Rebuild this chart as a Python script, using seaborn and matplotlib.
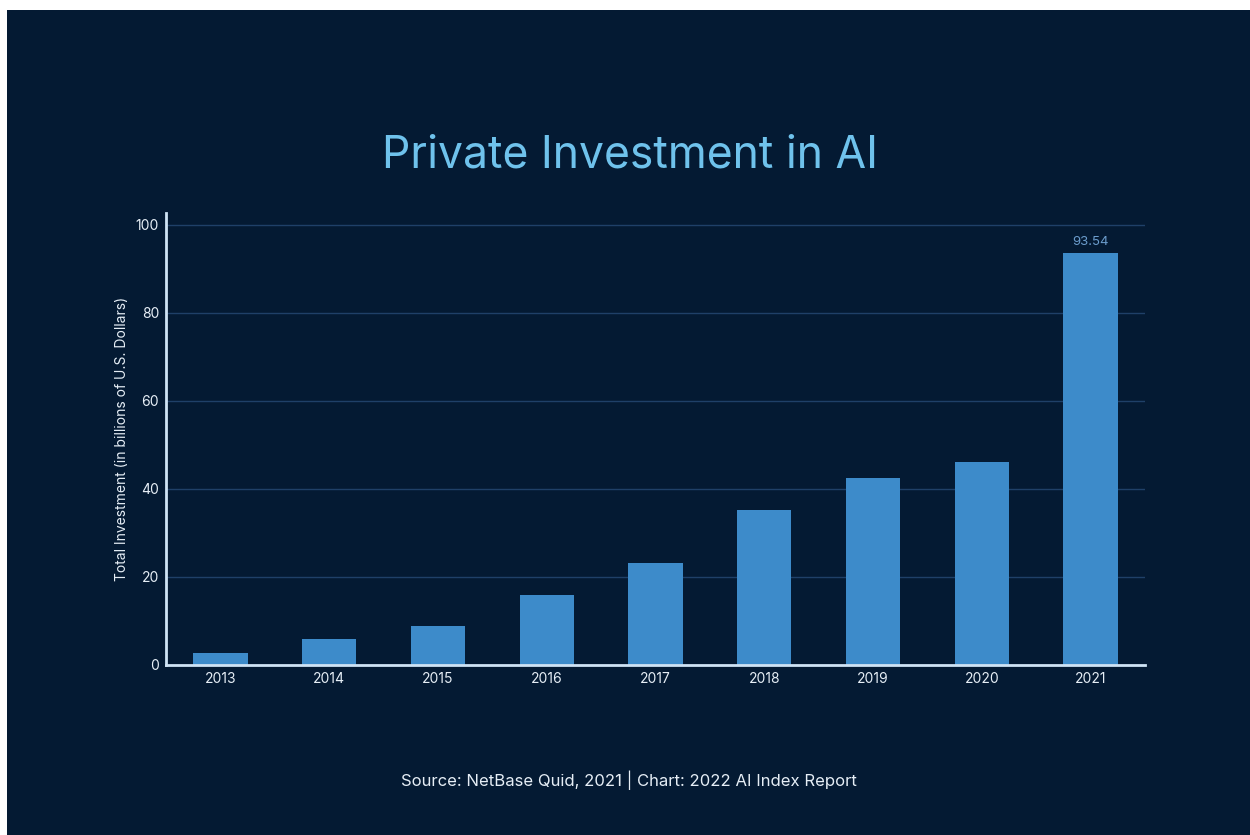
import matplotlib
matplotlib.use("Agg")
import matplotlib.pyplot as plt
import seaborn as sns
import pandas as pd
from matplotlib.patches import Rectangle

years = ["2013", "2014", "2015", "2016", "2017", "2018", "2019", "2020", "2021"]
investment = [2.7, 5.9, 8.9, 15.9, 23.2, 35.3, 42.6, 46.1, 93.54]
yticks = [0, 20, 40, 60, 80, 100]

BG = "#041a33"
BAR = "#3d8bca"
TITLE = "#6fc2ec"
GRID = "#1f4068"
SPINE = "#cfe3f5"
TXT = "#e6eef6"

sns.set_theme(style="dark")
plt.rcParams["font.family"] = ["Inter", "DejaVu Sans"]

df = pd.DataFrame({"year": years, "value": investment})

fig = plt.figure(figsize=(12.5, 8.35), dpi=100)
fig.patch.set_facecolor("white")
fig.patches.append(Rectangle((7 / 1250, 0), 1 - 7 / 1250, 1 - 10 / 835,
                             transform=fig.transFigure, facecolor=BG,
                             edgecolor="none", zorder=-10))

ax = fig.add_axes([166 / 1250, 1 - 665 / 835, (1145 - 166) / 1250, (665 - 213) / 835])
ax.set_facecolor(BG)
sns.barplot(data=df, x="year", y="value", color=BAR, width=0.5, ax=ax,
            saturation=1, edgecolor="none", zorder=3)

ax.set_xlim(-0.5, len(years) - 0.5)
ax.set_ylim(0, 102.7)
ax.set_yticks(yticks)
ax.set_yticklabels([str(t) for t in yticks])
ax.grid(axis="y", color=GRID, linewidth=1, zorder=0)
ax.grid(axis="x", visible=False)

for s in ["top", "right"]:
    ax.spines[s].set_visible(False)
for s in ["left", "bottom"]:
    ax.spines[s].set_visible(True)
    ax.spines[s].set_color(SPINE)
    ax.spines[s].set_linewidth(2)
    ax.spines[s].set_zorder(4)

ax.tick_params(axis="both", colors=TXT, labelsize=10, length=0, pad=5)
ax.set_xlabel("")
ax.set_ylabel("Total Investment (in billions of U.S. Dollars)", color=TXT, fontsize=10, labelpad=5)

# label on the last bar
ax.bar_label(ax.containers[0], labels=[""] * (len(years) - 1) + [f"{investment[-1]:.2f}"],
             color="#6b9ccc", fontsize=9.5, padding=4)

fig.text(630 / 1250, 1 - 155 / 835, "Private Investment in AI", ha="center", va="center",
         color=TITLE, fontsize=32)
fig.text(629 / 1250, 1 - 780 / 835, "Source: NetBase Quid, 2021 | Chart: 2022 AI Index Report",
         ha="center", va="center", color=TXT, fontsize=12)

fig.savefig("out.png", dpi=100, facecolor=fig.get_facecolor())
